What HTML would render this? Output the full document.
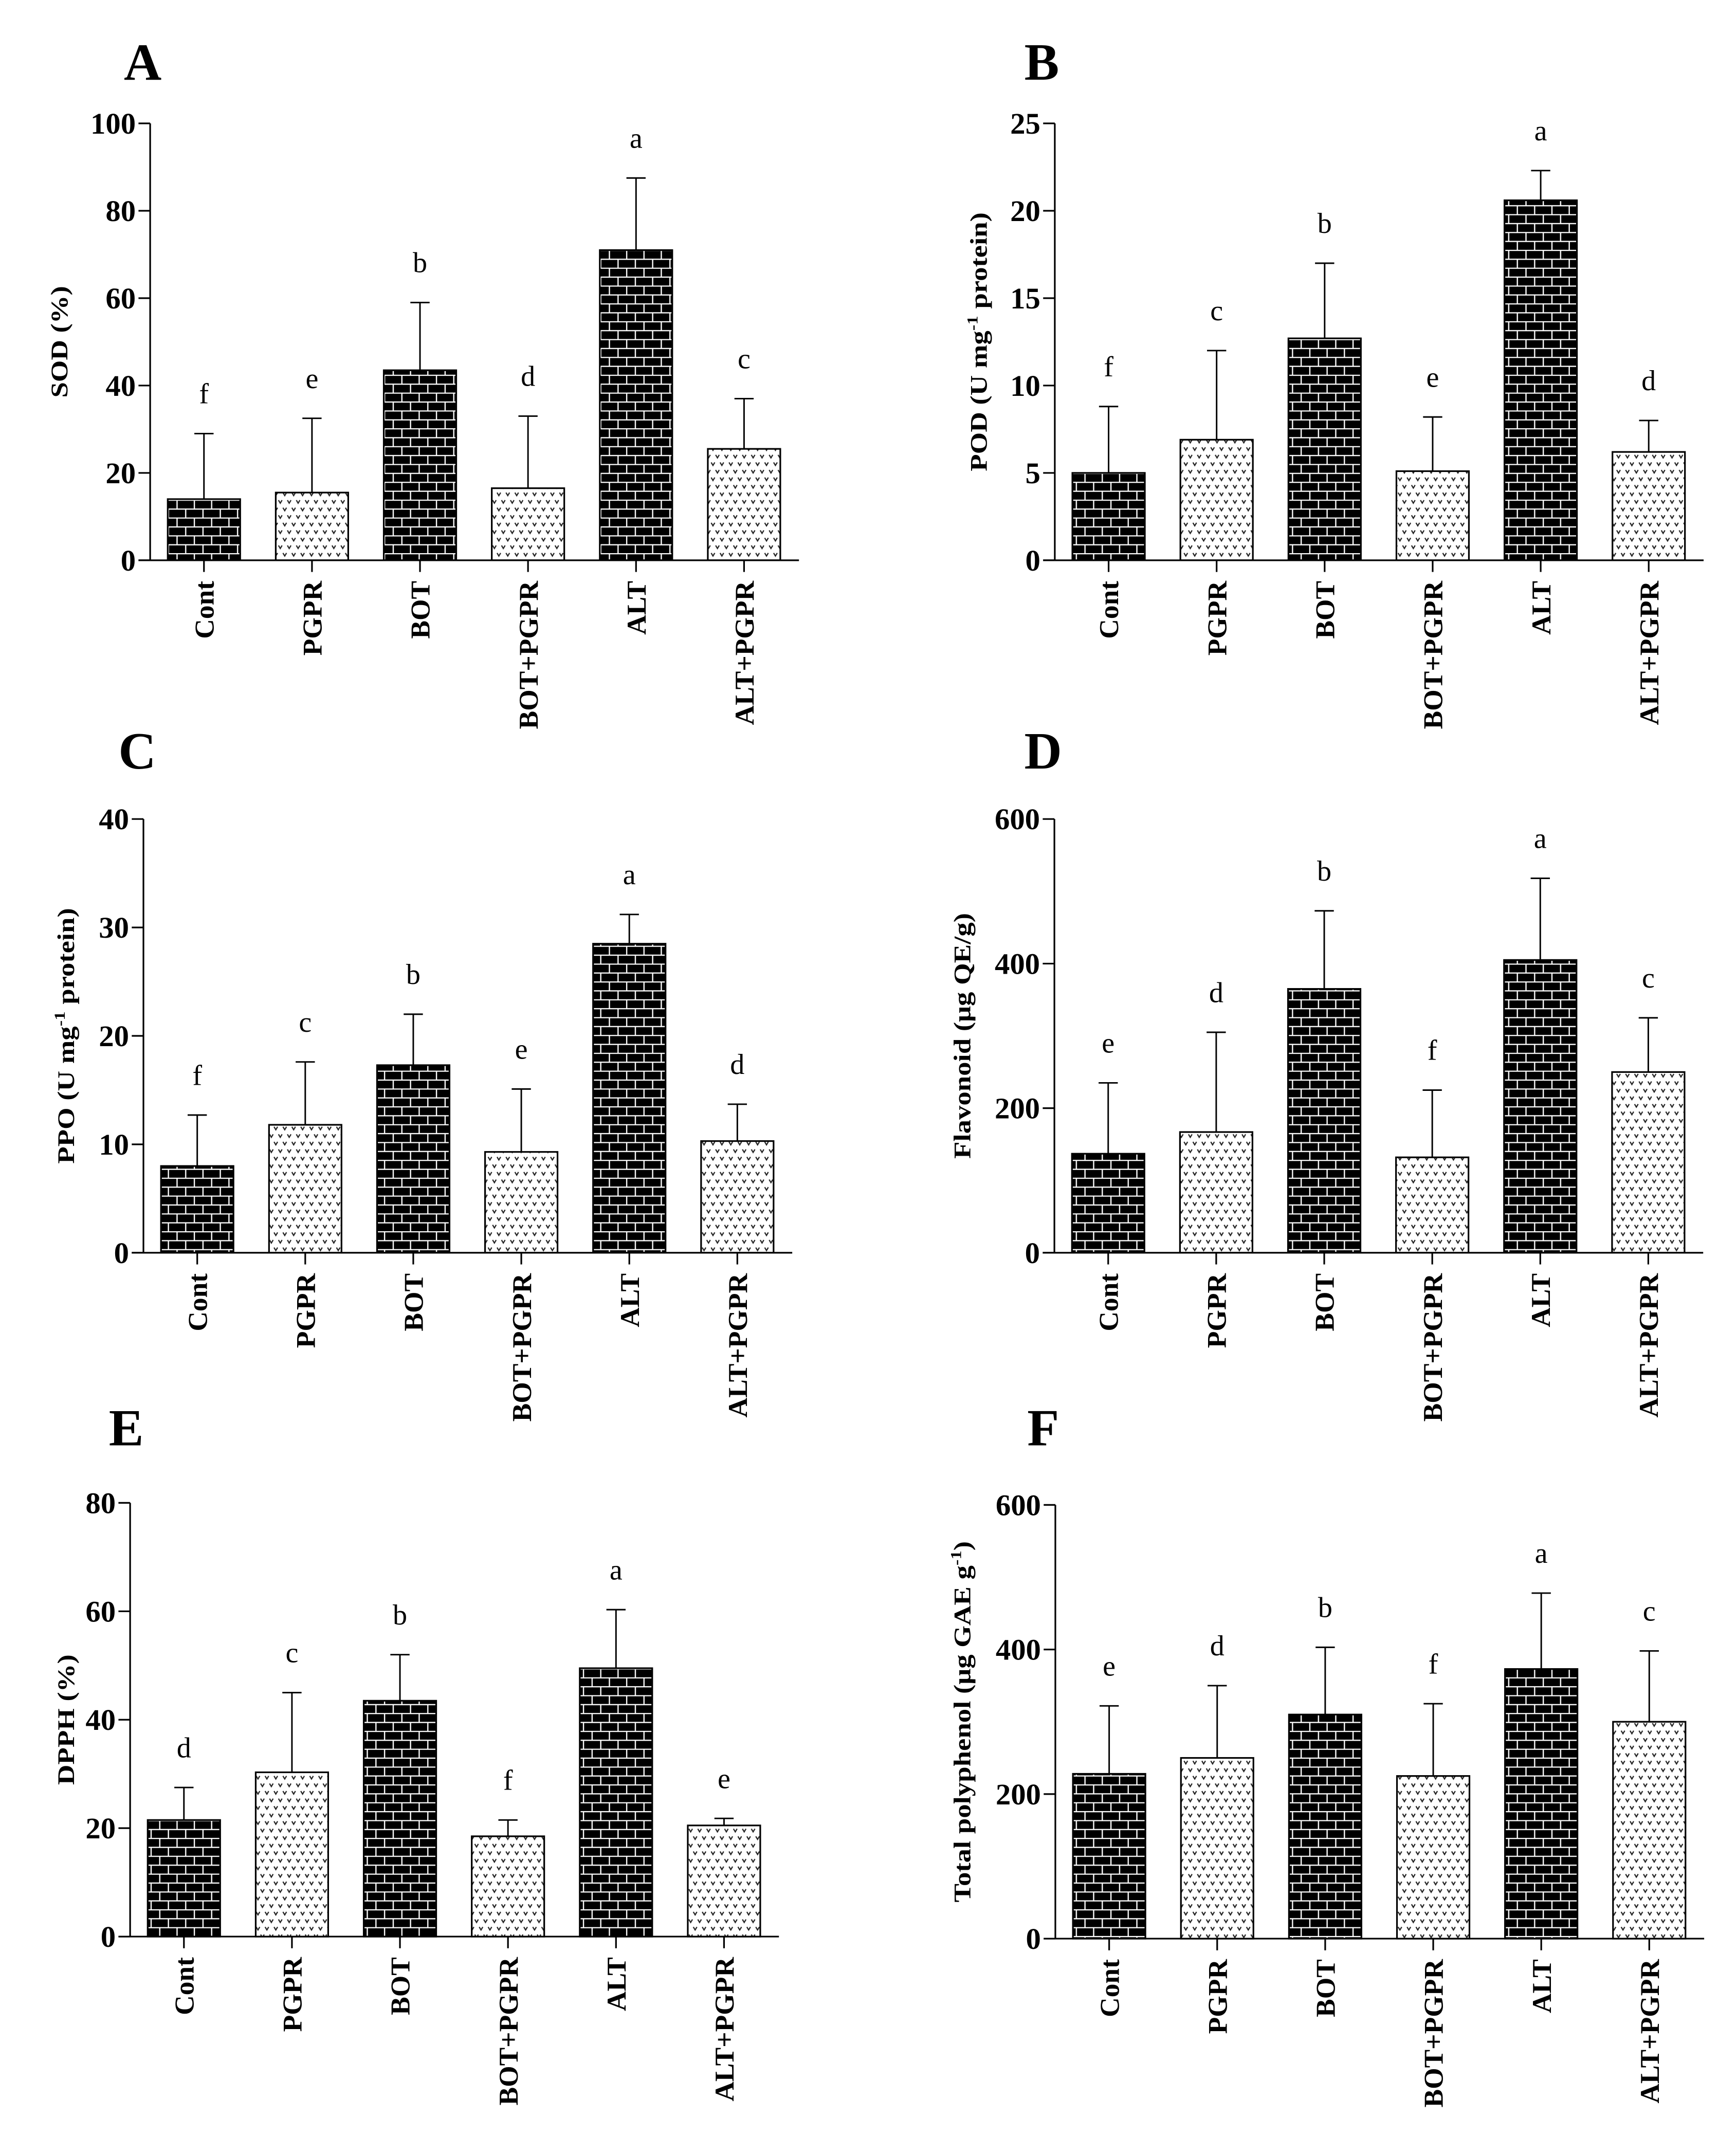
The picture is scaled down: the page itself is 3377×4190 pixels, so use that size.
<!DOCTYPE html>
<html><head><meta charset="utf-8"><title>Antioxidant enzyme charts</title>
<style>
html,body{margin:0;padding:0;background:#fff;}
svg{display:block;}
text{font-family:"Liberation Serif","Times New Roman",serif;fill:#000;}
</style></head>
<body>
<svg id="fig" width="3377" height="4190" viewBox="0 0 1264.8 1569.3" preserveAspectRatio="none" xmlns="http://www.w3.org/2000/svg">
<defs>
<pattern id="brick" patternUnits="userSpaceOnUse" width="12.6" height="13" x="0" y="0">
<rect width="12.6" height="13" fill="#000"/>
<path d="M0 0.4H12.6M0 6.9H12.6M3 0.4V6.9M9.3 6.9V13" stroke="#fff" stroke-width="0.9" fill="none"/>
</pattern>
<pattern id="dots" patternUnits="userSpaceOnUse" width="6.5" height="11" x="0" y="0">
<rect width="6.5" height="11" fill="#fff"/>
<path d="M1.4 1.4L2.7 3.6L4 1.4M4.65 6.9L5.95 9.1L7.25 6.9M-1.85 6.9L-0.55 9.1L0.75 6.9" stroke="#222" stroke-width="0.85" fill="none"/>
</pattern>
</defs>
<g id="root"></g>
</svg>
<script>
const categories = ["Cont","PGPR","BOT","BOT+PGPR","ALT","ALT+PGPR"];

const sodMeans = [14, 15.5, 43.5, 16.5, 71, 25.5];
const sodErrTop = [29, 32.5, 59, 33, 87.5, 37];
const sodLetters = ["f","e","b","d","a","c"];
const sodTicks = [0,20,40,60,80,100];

const podMeans = [5, 6.9, 12.7, 5.1, 20.6, 6.2];
const podErrTop = [8.8, 12, 17, 8.2, 22.3, 8];
const podLetters = ["f","c","b","e","a","d"];
const podTicks = [0,5,10,15,20,25];

const ppoMeans = [8, 11.8, 17.3, 9.3, 28.5, 10.3];
const ppoErrTop = [12.7, 17.6, 22, 15.1, 31.2, 13.7];
const ppoLetters = ["f","c","b","e","a","d"];
const ppoTicks = [0,10,20,30,40];

const flavMeans = [137, 167, 365, 132, 405, 250];
const flavErrTop = [235, 305, 473, 225, 518, 325];
const flavLetters = ["e","d","b","f","a","c"];
const flavTicks = [0,200,400,600];

const dpphMeans = [21.5, 30.3, 43.5, 18.5, 49.5, 20.5];
const dpphErrTop = [27.5, 45, 52, 21.5, 60.3, 21.8];
const dpphLetters = ["d","c","b","f","a","e"];
const dpphTicks = [0,20,40,60,80];

const polyMeans = [228, 250, 310, 225, 373, 300];
const polyErrTop = [322, 350, 403, 325, 478, 398];
const polyLetters = ["e","d","b","f","a","c"];
const polyTicks = [0,200,400,600];

const NS = "http://www.w3.org/2000/svg";
const root = document.getElementById("root");
function mk(tag, attrs, parent){
  const e = document.createElementNS(NS, tag);
  for (const k in attrs) e.setAttribute(k, attrs[k]);
  (parent||root).appendChild(e);
  return e;
}

const panels = [
  {id:"a", title:"A", tx:104, ty:58, ax:109.4, base:408.2, h:318.3, means:sodMeans, errs:sodErrTop, letters:sodLetters, ticks:sodTicks, label:[["SOD (%)"]], lx:42},
  {id:"b", title:"B", tx:759, ty:58, ax:768.5, base:408.2, h:318.3, means:podMeans, errs:podErrTop, letters:podLetters, ticks:podTicks, label:[["POD (U mg"],["-1","sup"],[" protein)"]], lx:712},
  {id:"c", title:"C", tx:100, ty:560, ax:104.5, base:912.7, h:316, means:ppoMeans, errs:ppoErrTop, letters:ppoLetters, ticks:ppoTicks, label:[["PPO (U mg"],["-1","sup"],[" protein)"]], lx:47},
  {id:"d", title:"D", tx:760, ty:560, ax:768.2, base:912.7, h:316, means:flavMeans, errs:flavErrTop, letters:flavLetters, ticks:flavTicks, label:[["Flavonoid (\u03BCg QE/g)"]], lx:700},
  {id:"e", title:"E", tx:92, ty:1053, ax:94.8, base:1410.9, h:316, means:dpphMeans, errs:dpphErrTop, letters:dpphLetters, ticks:dpphTicks, label:[["DPPH (%)"]], lx:47},
  {id:"f", title:"F", tx:760, ty:1053, ax:768.9, base:1412.4, h:316, means:polyMeans, errs:polyErrTop, letters:polyLetters, ticks:polyTicks, label:[["Total polyphenol (\u03BCg GAE g"],["-1","sup"],[")"]], lx:700}
];

const OFF = 39.2, SP = 78.7, BW = 52.8, TK = 8.5, CAP = 14;

panels.forEach(p => {
  const g = mk("g", {});
  
  
  const maxV = p.ticks[p.ticks.length-1];
  const yS = v => p.base - v / maxV * p.h;
  const xC = i => p.ax + OFF + i * SP;

  const t = mk("text", {x:p.tx, y:p.ty, "text-anchor":"middle", "font-size":38, "font-weight":"bold"}, g);
  t.textContent = p.title;
  
  

  p.means.forEach((v, i) => {
    const r = mk("rect", {x:xC(i)-BW/2, y:yS(v), width:BW, height:p.base-yS(v), fill: i%2===0 ? "url(#brick)" : "url(#dots)", stroke:"#000", "stroke-width":1.2}, g);
    
    
    const e = mk("path", {d:`M${xC(i)} ${yS(v)}V${yS(p.errs[i])}M${xC(i)-CAP/2} ${yS(p.errs[i])}H${xC(i)+CAP/2}`, stroke:"#000", "stroke-width":1.1, fill:"none"}, g);
    
    
    const L = mk("text", {x:xC(i), y:yS(p.errs[i]) - 22, "text-anchor":"middle", "font-size":21}, g);
    L.textContent = p.letters[i];
    
    
  });

  const xEnd = xC(5) + 40;
  const ax = mk("path", {d:`M${p.ax} ${p.base}V${yS(maxV)}`, stroke:"#000", "stroke-width":1.2, fill:"none"}, g);
  
  
  const xa = mk("path", {d:`M${p.ax-TK} ${p.base}H${xEnd}`, stroke:"#000", "stroke-width":1.2, fill:"none"}, g);
  
  

  p.ticks.forEach(v => {
    const tk = mk("path", {d:`M${p.ax-TK} ${yS(v)}H${p.ax}`, stroke:"#000", "stroke-width":1.2}, g);
    
    
    const tl = mk("text", {x:p.ax-TK-2, y:yS(v)+7.5, "text-anchor":"end", "font-size":22, "font-weight":"bold"}, g);
    tl.textContent = String(v);
    
    
  });

  categories.forEach((c, i) => {
    const tk = mk("path", {d:`M${xC(i)} ${p.base}V${p.base+TK}`, stroke:"#000", "stroke-width":1.2}, g);
    
    
    const tl = mk("text", {x:0, y:0, "text-anchor":"end", "font-size":20, "font-weight":"bold", transform:`translate(${xC(i)+7},${p.base+15}) rotate(-90)`}, g);
    tl.textContent = c;
    
    
  });

  const yl = mk("text", {x:0, y:0, "text-anchor":"middle", "font-size":20.5, "font-weight":"bold", transform:`translate(${p.lx+7},${p.base - p.h/2}) rotate(-90) scale(1,0.85)`}, g);
  
  
  p.label.forEach(part => {
    const ts = mk("tspan", {}, yl);
    if (part[1] === "sup") { ts.setAttribute("dy", "-8"); ts.setAttribute("font-size", "13"); }
    else if (yl.childNodes.length > 1) { ts.setAttribute("dy", "8"); }
    ts.textContent = part[0];
  });
});
</script>
</body></html>
